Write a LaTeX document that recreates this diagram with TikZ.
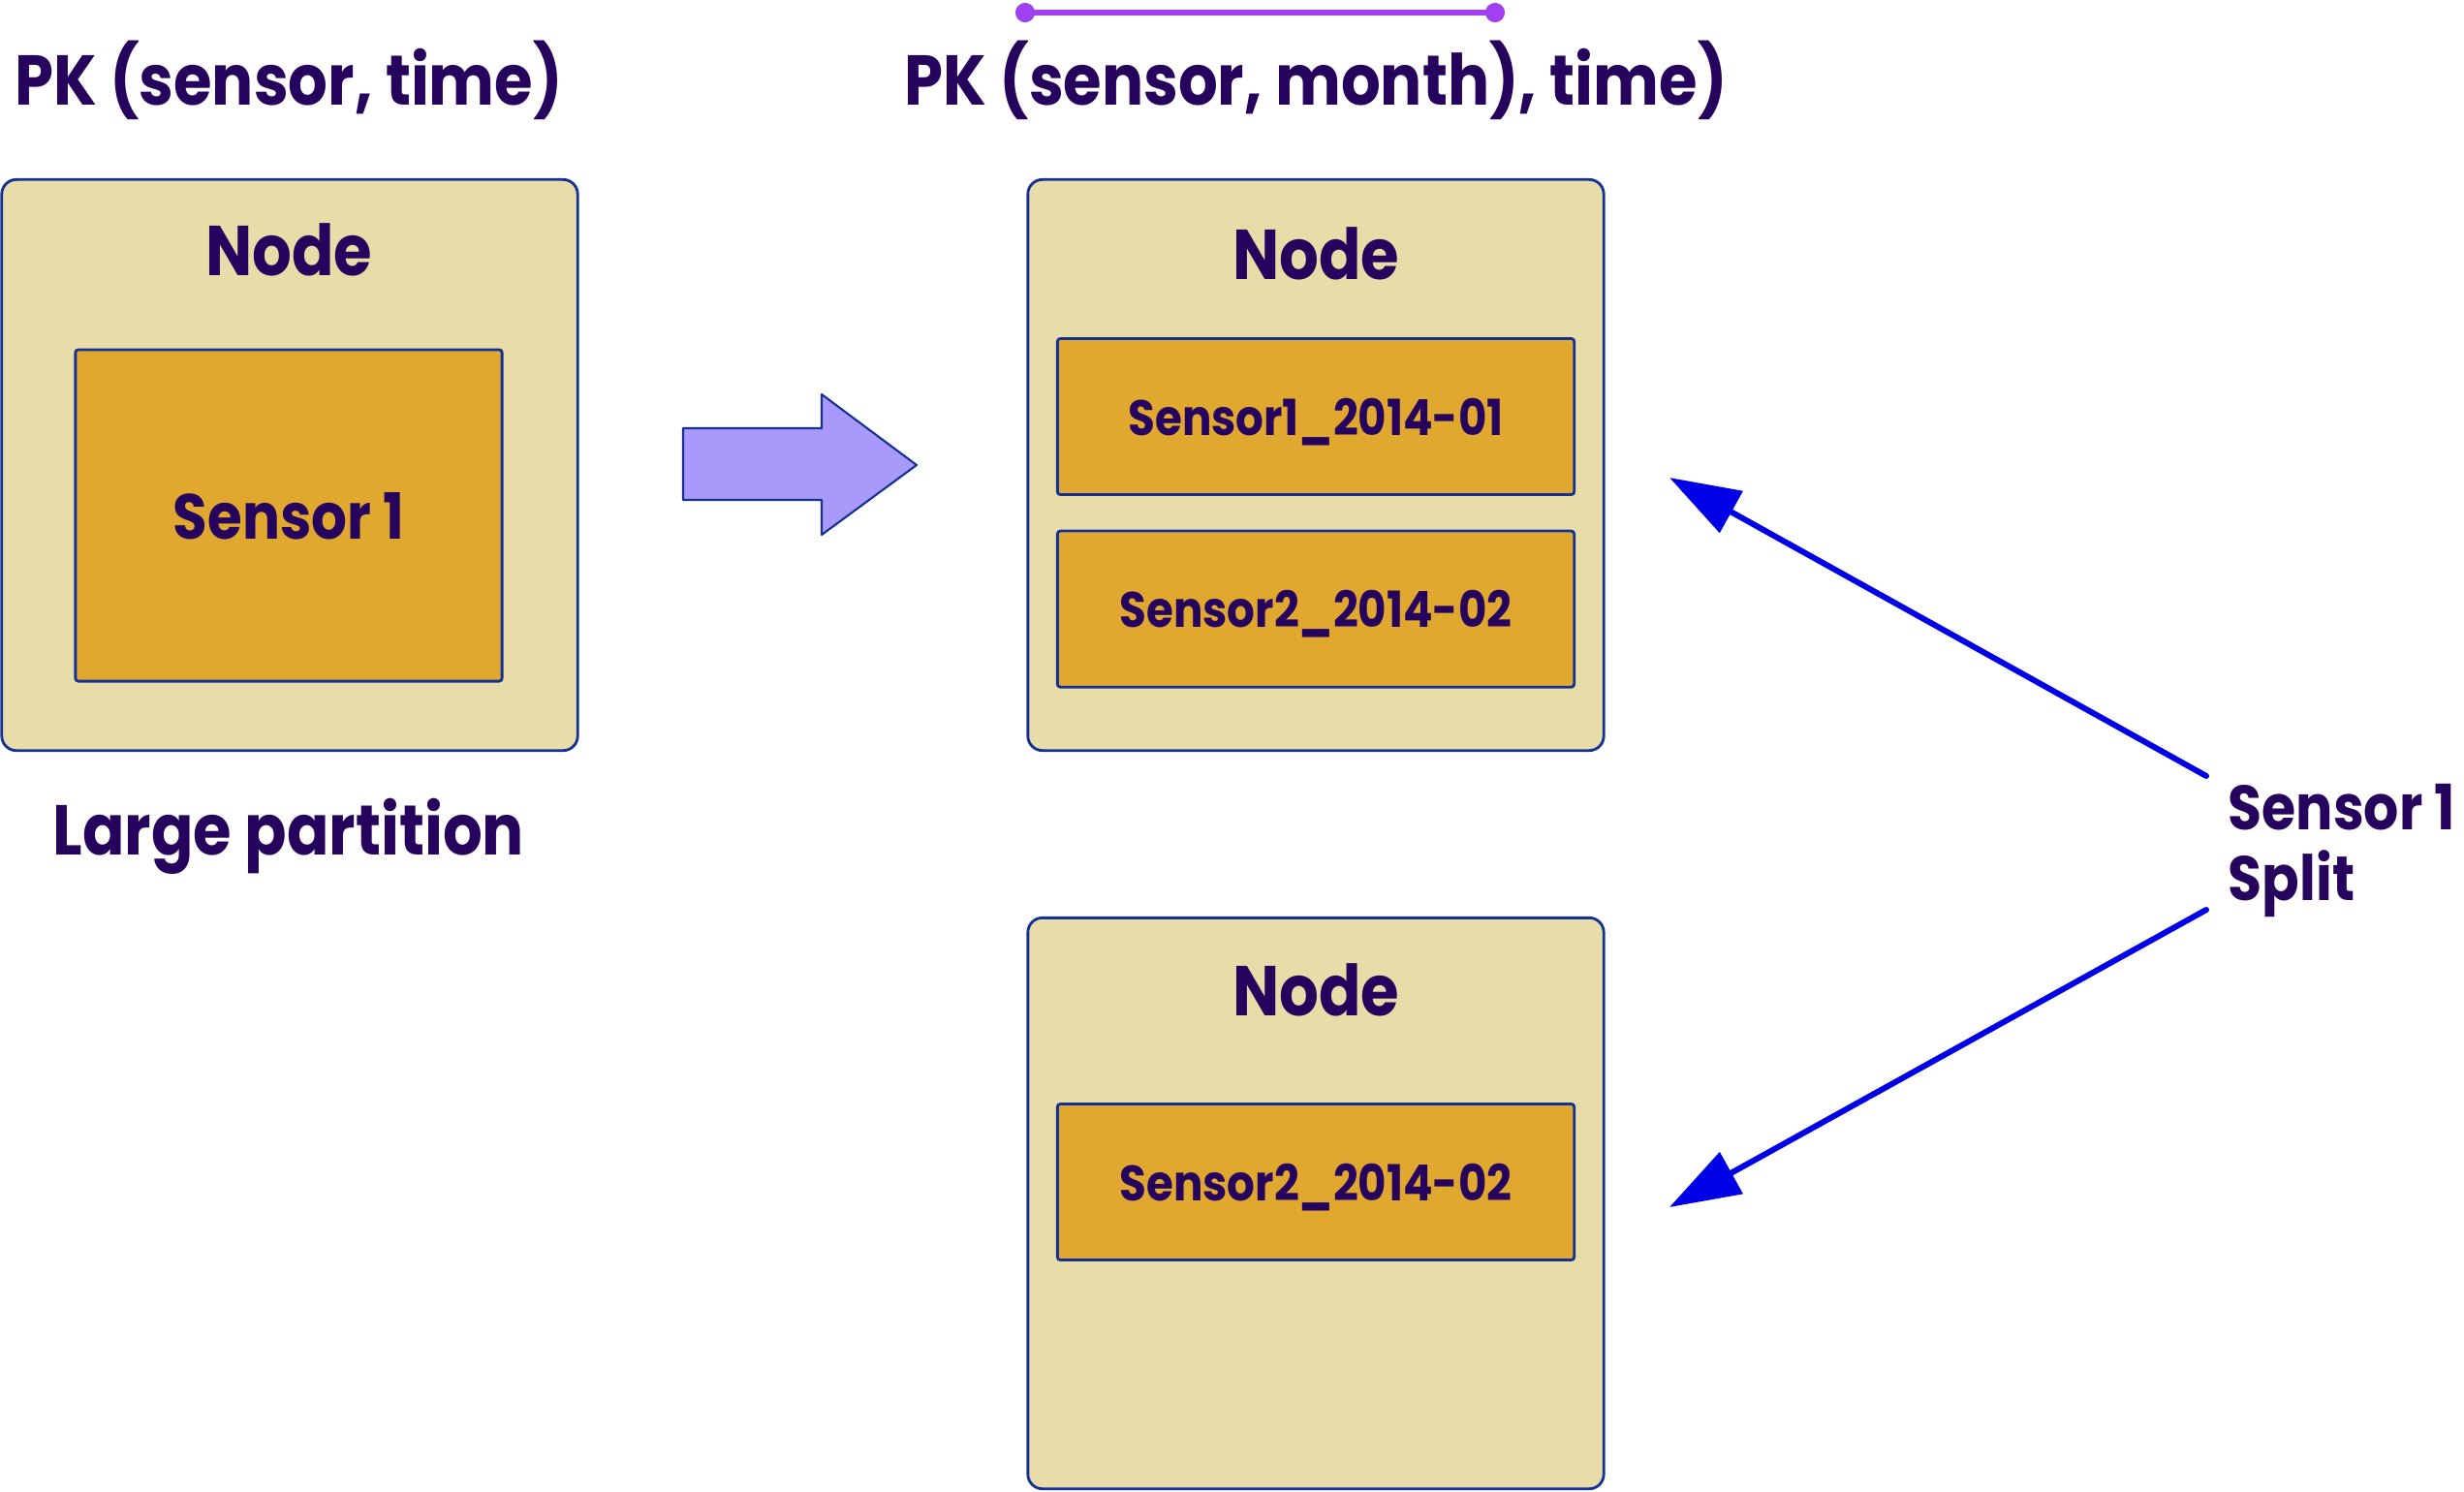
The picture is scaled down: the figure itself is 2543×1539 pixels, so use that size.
\documentclass[tikz,border=0pt]{standalone}
\usepackage{fontspec}
\setmainfont{Poppins}[FakeStretch=0.88]
\usetikzlibrary{arrows.meta,positioning}
\definecolor{ink}{RGB}{38,4,94}
\definecolor{edge}{RGB}{20,50,150}
\definecolor{nodefill}{RGB}{232,221,168}
\definecolor{partfill}{RGB}{225,168,48}
\definecolor{blockfill}{RGB}{168,153,250}
\definecolor{splitblue}{RGB}{0,0,230}
\definecolor{keyviolet}{RGB}{160,64,240}

\begin{document}
\begin{tikzpicture}[x=0.01cm, y=-0.01cm, node distance=1.985cm,
  server/.style={draw=edge, fill=nodefill, line width=0.8pt, rounded corners=0.15cm, minimum width=5.94cm, minimum height=5.89cm},
  partbox/.style={draw=edge, fill=partfill, line width=0.8pt, rounded corners=0.03cm, inner sep=0pt, text depth=0pt, minimum width=5.33cm, minimum height=1.61cm, text=ink, font=\bfseries\fontsize{14.6}{16}\selectfont},
  heading/.style={text=ink, font=\bfseries\fontsize{20.7}{24}\selectfont, inner sep=0pt, anchor=base},
  split arrow/.style={-{Triangle[length=0.73cm, width=0.48cm]}, line width=0.06cm, line cap=round, splitblue}]
  \useasboundingbox (0,0) rectangle (2543,1539);
  % one big partition
  \node(pk1)[heading] at (298,108) {PK (sensor, time)};
  \node(old)[server] at (299,480) {};
  \node(oldlbl)[heading] at (298,284) {Node};
  \node(s1)[partbox, minimum width=4.4cm, minimum height=3.42cm, font=\bfseries\fontsize{18.7}{20}\selectfont] at (298,532) {Sensor 1};
  \node(large)[heading] at (298,882) {Large partition};
  \draw[draw=edge, fill=blockfill, line width=0.6pt, line join=round] (705,442) -- (848,442) -- (848,407) -- (946,480) -- (848,552) -- (848,516) -- (705,516) -- cycle;
  % split by month
  \node(pk2)[heading] at (1358,108) {PK (sensor, month), time)};
  \coordinate (kl) at (1048,13);
  \coordinate (kr) at (1553,13);
  \draw[{Circle[length=0.2cm]}-{Circle[length=0.2cm]}, line width=0.06cm, keyviolet] (kl) -- (kr);
  \node(top)[server] at (1358,480) {};
  \node(toplbl)[heading] at (1358,288) {Node};
  \node(p1)[partbox] at (1358,430) {Sensor1\_2014-01};
  \node(p2)[partbox, below of=p1] {Sensor2\_2014-02};
  \node(bot)[server] at (1358,1242) {};
  \node(botlbl)[heading] at (1358,1048) {Node};
  \node(p3)[partbox] at (1358,1220) {Sensor2\_2014-02};
  \node(split)[text=ink, font=\bfseries\fontsize{18.4}{20.5}\selectfont, inner sep=0pt, anchor=west, align=left] at (2299,878) {Sensor 1\\Split};
  \coordinate (t1) at (1723,493);
  \coordinate (t2) at (1723,1246);
  \draw[split arrow] ([xshift=-0.22cm, yshift=0.77cm]split.west) -- (t1);
  \draw[split arrow] ([xshift=-0.22cm, yshift=-0.61cm]split.west) -- (t2);
\end{tikzpicture}
\end{document}
